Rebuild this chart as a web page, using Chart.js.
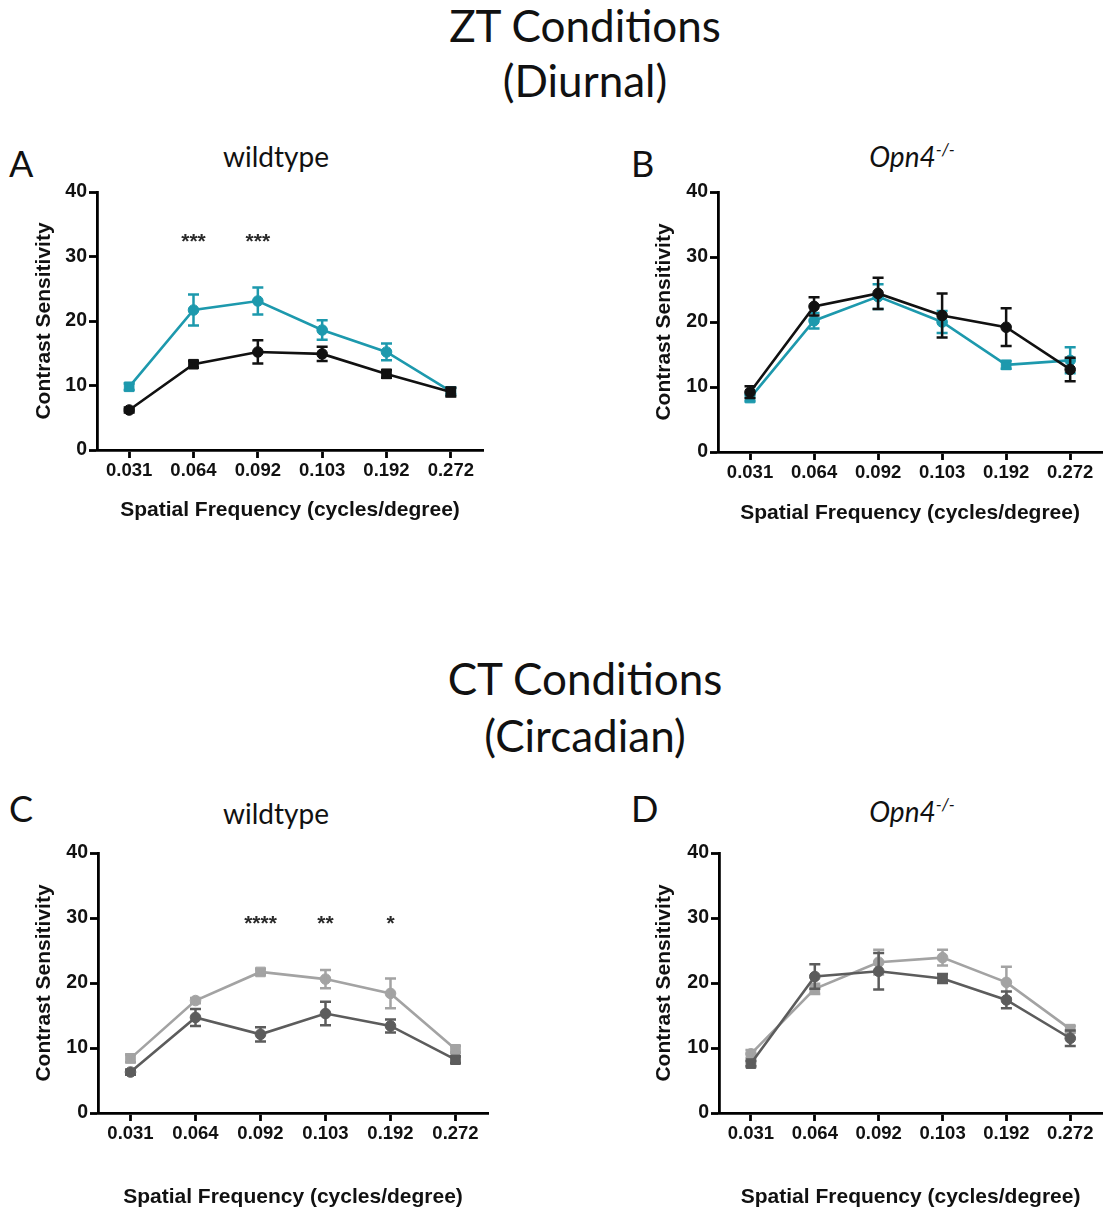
<!DOCTYPE html>
<html>
<head>
<meta charset="utf-8">
<script src="https://cdn.jsdelivr.net/npm/chart.js@4.4.1/dist/chart.umd.min.js"></script>
<style>
  body { margin: 0; background: #fff; width: 1110px; height: 1214px; position: relative; overflow: hidden; font-family: Lato, "Open Sans", sans-serif; color: #111; }
  .heading { position: absolute; left: 0; width: 1170px; text-align: center; font-size: 44px; line-height: 1.2; }
  .letter { position: absolute; font-size: 36px; line-height: 1.2; }
  .ptitle { position: absolute; width: 300px; text-align: center; font-size: 28px; line-height: 1.2; }
  .ptitle sup { font-size: 17px; vertical-align: 11px; line-height: 0; }
  canvas { position: absolute; }
</style>
</head>
<body>
<div class="heading" style="top:-1px">ZT Conditions</div>
<div class="heading" style="top:54px">(Diurnal)</div>
<div class="heading" style="top:652px">CT Conditions</div>
<div class="heading" style="top:709px">(Circadian)</div>

<div class="letter" style="left:9px; top:142px">A</div>
<div class="letter" style="left:631px; top:142px">B</div>
<div class="letter" style="left:9px; top:787px">C</div>
<div class="letter" style="left:631px; top:787px">D</div>

<div class="ptitle" style="left:126px; top:140px">wildtype</div>
<div class="ptitle" style="left:762px; top:140px"><i>Opn4<sup>-/-</sup></i></div>
<div class="ptitle" style="left:126px; top:797px">wildtype</div>
<div class="ptitle" style="left:762px; top:795px"><i>Opn4<sup>-/-</sup></i></div>

<canvas id="chartA" width="500" height="360" style="left:0; top:170px"></canvas>
<canvas id="chartB" width="490" height="360" style="left:620px; top:170px"></canvas>
<canvas id="chartC" width="500" height="384" style="left:0; top:830px"></canvas>
<canvas id="chartD" width="490" height="384" style="left:620px; top:830px"></canvas>

<script>
const freqLabels = ['0.031', '0.064', '0.092', '0.103', '0.192', '0.272'];
const yTicks = [0, 10, 20, 30, 40];

// ZT (diurnal), wildtype
const ztWtBlack = [6.2, 13.3, 15.2, 14.9, 11.8, 9.0];
const ztWtBlackErr = [0.4, 0.5, 1.8, 1.1, 0.6, 0.7];
const ztWtTeal = [9.8, 21.7, 23.1, 18.6, 15.2, 9.1];
const ztWtTealErr = [0.5, 2.4, 2.1, 1.5, 1.3, 0.5];
const ztWtStars = ['', '***', '***', '', '', ''];

// ZT (diurnal), Opn4-/-
const ztKoBlack = [9.2, 22.4, 24.4, 21.0, 19.2, 12.7];
const ztKoBlackErr = [0.9, 1.4, 2.4, 3.4, 2.9, 1.8];
const ztKoTeal = [8.3, 20.2, 23.9, 20.0, 13.4, 14.1];
const ztKoTealErr = [0.5, 1.2, 1.9, 1.7, 0.6, 2.0];

// CT (circadian), wildtype
const ctWtDark = [6.3, 14.7, 12.1, 15.3, 13.4, 8.2];
const ctWtDarkErr = [0.4, 1.3, 1.1, 1.8, 1.0, 0.5];
const ctWtLight = [8.4, 17.3, 21.7, 20.6, 18.4, 9.8];
const ctWtLightErr = [0.6, 0.4, 0.4, 1.4, 2.3, 0.5];
const ctWtStars = ['', '', '****', '**', '*', ''];

// CT (circadian), Opn4-/-
const ctKoDark = [7.6, 21.0, 21.8, 20.7, 17.4, 11.5];
const ctKoDarkErr = [0.4, 1.9, 2.8, 0.7, 1.3, 1.2];
const ctKoLight = [9.1, 19.1, 23.2, 23.9, 20.1, 12.9];
const ctKoLightErr = [0.6, 0.8, 1.9, 1.2, 2.4, 0.5];

const BLACK = '#111111';
const TEAL = '#1d99ad';
const DARK = '#5c5c5c';
const LIGHT = '#a3a3a3';

// vertical SEM bars with caps, drawn right after each dataset
const errorBars = {
  id: 'errorBars',
  afterDatasetDraw(chart, args) {
    const ds = chart.data.datasets[args.index];
    if (!ds.errors) return;
    const y = chart.scales.y;
    const ctx = chart.ctx;
    ctx.save();
    ctx.strokeStyle = ds.borderColor;
    ctx.lineWidth = 2.5;
    args.meta.data.forEach((pt, i) => {
      const top = y.getPixelForValue(ds.data[i] + ds.errors[i]);
      const bot = y.getPixelForValue(ds.data[i] - ds.errors[i]);
      ctx.beginPath();
      ctx.moveTo(pt.x, top);
      ctx.lineTo(pt.x, bot);
      ctx.moveTo(pt.x - 5.5, top);
      ctx.lineTo(pt.x + 5.5, top);
      ctx.moveTo(pt.x - 5.5, bot);
      ctx.lineTo(pt.x + 5.5, bot);
      ctx.stroke();
    });
    ctx.restore();
  },
};

// significance asterisks above the curves
const sigStars = {
  id: 'sigStars',
  afterDraw(chart, args, opts) {
    if (!opts.labels) return;
    const ctx = chart.ctx;
    const yPix = chart.scales.y.getPixelForValue(opts.level);
    ctx.save();
    ctx.fillStyle = '#2a2a2a';
    ctx.font = 'bold 21px "Liberation Sans", Arial, sans-serif';
    ctx.textAlign = 'center';
    ctx.textBaseline = 'alphabetic';
    opts.labels.forEach((s, i) => {
      if (!s) return;
      ctx.fillText(s, chart.scales.x.getPixelForValue(i), yPix + 12);
    });
    ctx.restore();
  },
};

const series = (values, errors, color, styles) => ({
  data: values,
  errors,
  borderColor: color,
  backgroundColor: color,
  borderWidth: 2.6,
  pointStyle: styles,
  pointRadius: styles.map((s) => (s === 'rect' ? 6.8 : 5.3)),
  pointBorderWidth: 1,
  tension: 0,
});

const axisFont = { family: '"Liberation Sans", Arial, sans-serif', weight: 'bold' };

const makePanel = (id, datasets, stars, box) => new Chart(document.getElementById(id), {
  type: 'line',
  data: { labels: freqLabels, datasets },
  options: {
    responsive: false,
    animation: false,
    events: [],
    layout: { padding: { left: 0, top: box.padTop, right: box.padRight, bottom: 0 } },
    plugins: {
      legend: { display: false },
      tooltip: { enabled: false },
      sigStars: stars,
    },
    scales: {
      x: {
        type: 'category',
        offset: true,
        border: { display: true, color: '#000', width: 2.8 },
        grid: { drawOnChartArea: false, drawTicks: true, tickLength: 8, tickColor: '#000', tickWidth: 2.8, offset: false },
        ticks: { color: '#111', font: { ...axisFont, size: 18.5 }, padding: 2, maxRotation: 0 },
        title: { display: true, text: 'Spatial Frequency (cycles/degree)', color: '#111', font: { ...axisFont, size: 21 }, padding: { top: 0, bottom: box.xTitlePad } },
        afterFit: (scale) => { scale.height = box.xHeight; },
      },
      y: {
        min: 0,
        max: 40,
        afterBuildTicks: (scale) => { scale.ticks = yTicks.map((v) => ({ value: v })); },
        border: { display: true, color: '#000', width: 2.8 },
        grid: { drawOnChartArea: false, drawTicks: true, tickLength: 8, tickColor: '#000', tickWidth: 2.8 },
        ticks: { color: '#111', font: { ...axisFont, size: 19.5 }, padding: 2 },
        title: { display: true, text: 'Contrast Sensitivity', color: '#111', font: { ...axisFont, size: 21 }, padding: { top: 32, bottom: 0 } },
        afterFit: (scale) => { scale.width = box.yWidth; },
      },
    },
  },
  plugins: [errorBars, sigStars],
});

makePanel('chartA', [
  series(ztWtBlack, ztWtBlackErr, BLACK, ['circle', 'rect', 'circle', 'circle', 'rect', 'rect']),
  series(ztWtTeal, ztWtTealErr, TEAL, ['rect', 'circle', 'circle', 'circle', 'circle', 'rect']),
], { labels: ztWtStars, level: 33.2 }, { yWidth: 97, xHeight: 80, padTop: 22, padRight: 17, xTitlePad: 7 });

makePanel('chartB', [
  series(ztKoBlack, ztKoBlackErr, BLACK, ['circle', 'circle', 'circle', 'circle', 'circle', 'circle']),
  series(ztKoTeal, ztKoTealErr, TEAL, ['rect', 'circle', 'circle', 'circle', 'rect', 'circle']),
], {}, { yWidth: 98, xHeight: 78, padTop: 22, padRight: 2, xTitlePad: 4 });

makePanel('chartC', [
  series(ctWtDark, ctWtDarkErr, DARK, ['circle', 'circle', 'circle', 'circle', 'circle', 'rect']),
  series(ctWtLight, ctWtLightErr, LIGHT, ['rect', 'circle', 'rect', 'circle', 'circle', 'rect']),
], { labels: ctWtStars, level: 30 }, { yWidth: 98, xHeight: 101, padTop: 23, padRight: 12, xTitlePad: 4 });

makePanel('chartD', [
  series(ctKoDark, ctKoDarkErr, DARK, ['rect', 'circle', 'circle', 'rect', 'circle', 'circle']),
  series(ctKoLight, ctKoLightErr, LIGHT, ['circle', 'rect', 'circle', 'circle', 'circle', 'rect']),
], {}, { yWidth: 99, xHeight: 101, padTop: 23, padRight: 0, xTitlePad: 4 });
</script>
</body>
</html>
